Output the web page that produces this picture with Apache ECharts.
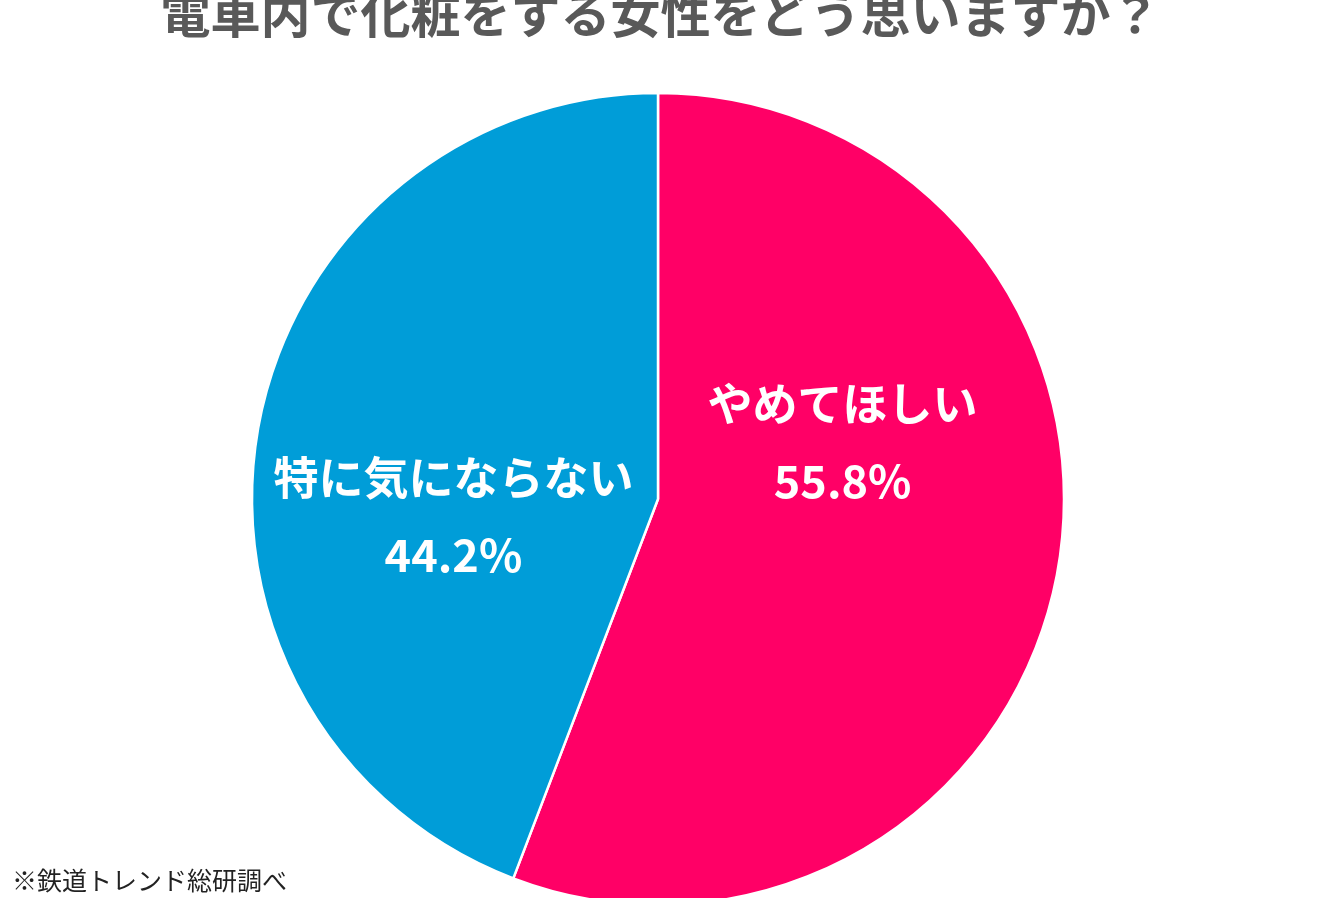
<!DOCTYPE html>
<html><head><meta charset="utf-8">
<script src="https://cdn.jsdelivr.net/npm/echarts@6/dist/echarts.min.js"></script>
<style>html,body{margin:0;padding:0;background:#fff;}#c{width:1321px;height:898px;}</style>
</head><body><div id="c"></div>
<script>
const titleText = '電車内で化粧をする女性をどう思いますか？';
const sourceText = '※鉄道トレンド総研調べ';
const categories = ['やめてほしい', '特に気にならない'];
const values = [55.8, 44.2];
const colors = ['#FF0066', '#009DD8'];
const labelOffsets = [[-18, -94], [-2, 55]];

const chart = echarts.init(document.getElementById('c'));
chart.setOption({
  backgroundColor: '#fff',
  animation: false,
  title: {
    text: titleText,
    left: 'center',
    top: -16,
    textStyle: { fontFamily: 'Noto Sans CJK JP', fontWeight: 'bold', fontSize: 50, color: '#595959' }
  },
  graphic: [{
    type: 'text', left: 12, top: 868,
    style: { text: sourceText, font: '25px "Noto Sans CJK JP"', fill: '#222' }
  }],
  series: [{
    type: 'pie',
    center: [658, 499],
    radius: [0, 406],
    startAngle: 90,
    clockwise: true,
    itemStyle: { borderColor: '#fff', borderWidth: 2.5 },
    label: {
      show: true,
      position: 'inside',
      formatter: '{b}\n{c}%',
      color: '#fff',
      fontFamily: 'Noto Sans CJK JP',
      fontWeight: 'bold',
      fontSize: 45,
      lineHeight: 77
    },
    labelLine: { show: false },
    data: categories.map((n, i) => ({
      name: n, value: values[i],
      itemStyle: { color: colors[i] },
      label: { offset: labelOffsets[i] }
    }))
  }]
});
</script></body></html>
